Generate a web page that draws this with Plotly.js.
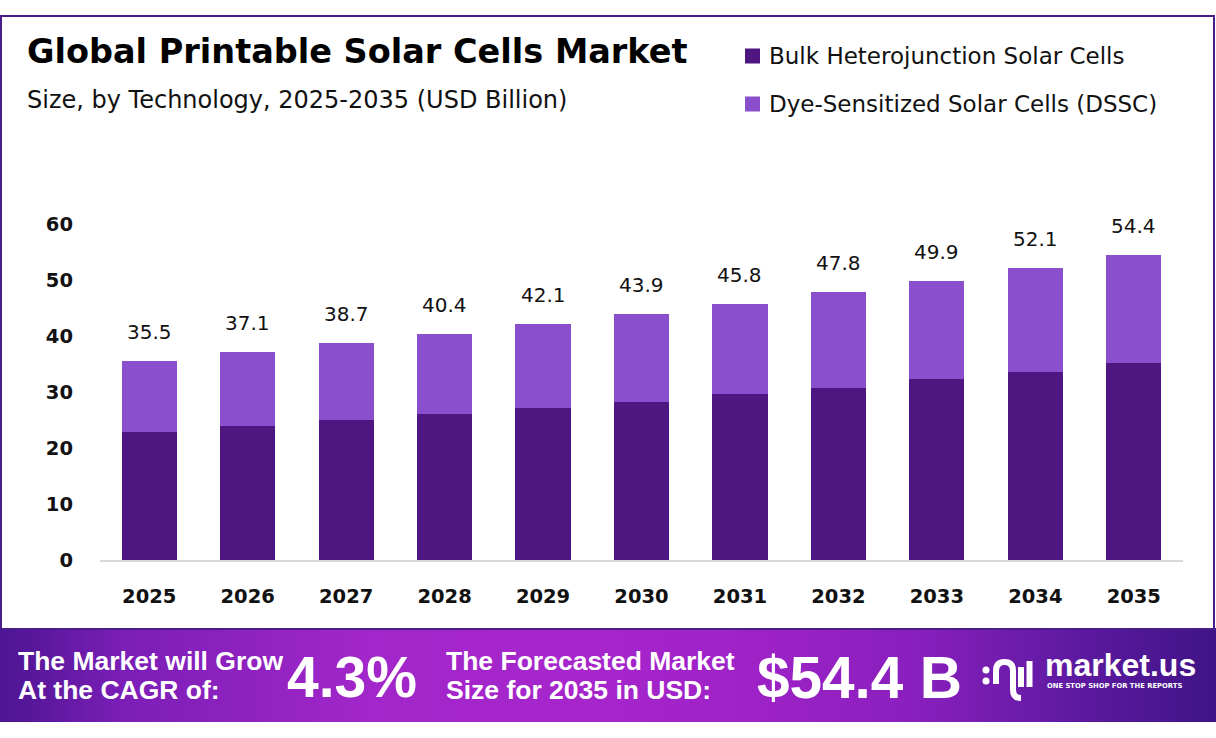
<!DOCTYPE html>
<html>
<head>
<meta charset="utf-8">
<script src="https://cdn.plot.ly/plotly-3.0.1.min.js"></script>
<style>
  html, body { margin: 0; padding: 0; background: #ffffff; }
  #wrap { position: relative; width: 1216px; height: 738px; overflow: hidden; }
  #banner { position: absolute; left: 0; top: 628px; width: 1216px; height: 94px;
    background: linear-gradient(90deg, #4c1592 0%, #7a1eb6 10%, #a226c9 30%, #a626cc 48%, #9e22c6 62%, #8a1fbe 75%, #5f1aa2 88%, #3f1486 100%); }
  #chart { position: absolute; left: 0; top: 0; width: 1216px; height: 738px; }
</style>
</head>
<body>
<div id="wrap">
  <div id="banner"></div>
  <div id="chart"></div>
</div>
<script>
// ---- data ----
const years = ['2025','2026','2027','2028','2029','2030','2031','2032','2033','2034','2035'];
const bulkHeterojunction = [22.8, 23.9, 25.0, 26.0, 27.1, 28.3, 29.6, 30.8, 32.3, 33.5, 35.1];
const dyeSensitized = [12.7, 13.2, 13.7, 14.4, 15.0, 15.6, 16.2, 17.0, 17.6, 18.6, 19.3];
const totalLabels = [35.5, 37.1, 38.7, 40.4, 42.1, 43.9, 45.8, 47.8, 49.9, 52.1, 54.4];
const yTicks = [0, 10, 20, 30, 40, 50, 60];
const seriesNames = ['Bulk Heterojunction Solar Cells', 'Dye-Sensitized Solar Cells (DSSC)'];

// ---- layout helpers (pixel -> paper) ----
const W = 1216, H = 738;
const px = x => x / W;
const py = y => 1 - y / H;
function pathPx(cmds) {
  return cmds.map(c => {
    const l = c[0]; const nums = c.slice(1);
    const out = [];
    for (let i = 0; i < nums.length; i += 2) out.push(px(nums[i]).toFixed(5) + ',' + py(nums[i+1]).toFixed(5));
    return l + out.join(' ');
  }).join(' ');
}

const DARK = '#4e1681';
const LIGHT = '#8a4fcc';
const FONT = '"DejaVu Sans", Verdana, sans-serif';
const BFONT = '"Liberation Sans", Arial, sans-serif';

const traces = [
  { type: 'bar', name: seriesNames[0], x: years, y: bulkHeterojunction,
    marker: { color: DARK }, hoverinfo: 'x+y+name' },
  { type: 'bar', name: seriesNames[1], x: years, y: dyeSensitized,
    marker: { color: LIGHT }, hoverinfo: 'x+y+name' }
];

const annotations = [];
// total labels above bars (x given as category serial number)
years.forEach((yr, i) => {
  annotations.push({ x: i, y: totalLabels[i], xref: 'x', yref: 'y', text: totalLabels[i].toFixed(1),
    showarrow: false, yshift: 29, font: { family: FONT, size: 20, color: '#111111' } });
});
// title & subtitle
annotations.push({ xref: 'paper', yref: 'paper', x: px(25), y: py(52), xanchor: 'left', yanchor: 'middle',
  text: 'Global Printable Solar Cells Market', showarrow: false,
  font: { family: FONT, size: 33.5, color: '#000000', weight: 700 } });
annotations.push({ xref: 'paper', yref: 'paper', x: px(25), y: py(100), xanchor: 'left', yanchor: 'middle',
  text: 'Size, by Technology, 2025-2035 (USD Billion)', showarrow: false,
  font: { family: FONT, size: 24, color: '#111111' } });
// legend texts
annotations.push({ xref: 'paper', yref: 'paper', x: px(767), y: py(56), xanchor: 'left', yanchor: 'middle',
  text: seriesNames[0], showarrow: false, font: { family: FONT, size: 23, color: '#111111' } });
annotations.push({ xref: 'paper', yref: 'paper', x: px(767), y: py(104), xanchor: 'left', yanchor: 'middle',
  text: seriesNames[1], showarrow: false, font: { family: FONT, size: 23, color: '#111111' } });
// banner texts
const bannerFont = s => ({ family: BFONT, size: s, color: '#ffffff', weight: 700 });
annotations.push({ xref: 'paper', yref: 'paper', x: px(16), y: py(661), xanchor: 'left', yanchor: 'middle',
  text: 'The Market will Grow', showarrow: false, font: bannerFont(26.5) });
annotations.push({ xref: 'paper', yref: 'paper', x: px(16), y: py(690), xanchor: 'left', yanchor: 'middle',
  text: 'At the CAGR of:', showarrow: false, font: bannerFont(26.5) });
annotations.push({ xref: 'paper', yref: 'paper', x: px(285), y: py(677), xanchor: 'left', yanchor: 'middle',
  text: '4.3%', showarrow: false, font: bannerFont(57) });
annotations.push({ xref: 'paper', yref: 'paper', x: px(444), y: py(661), xanchor: 'left', yanchor: 'middle',
  text: 'The Forecasted Market', showarrow: false, font: bannerFont(26.5) });
annotations.push({ xref: 'paper', yref: 'paper', x: px(444), y: py(690), xanchor: 'left', yanchor: 'middle',
  text: 'Size for 2035 in USD:', showarrow: false, font: bannerFont(26.5) });
annotations.push({ xref: 'paper', yref: 'paper', x: px(755), y: py(677), xanchor: 'left', yanchor: 'middle',
  text: '$54.4 B', showarrow: false, font: bannerFont(58.5) });
annotations.push({ xref: 'paper', yref: 'paper', x: px(1043), y: py(665), xanchor: 'left', yanchor: 'middle',
  text: 'market.us', showarrow: false, font: { family: '"Liberation Sans", Arial, sans-serif', size: 32, color: '#ffffff', weight: 700 } });
annotations.push({ xref: 'paper', yref: 'paper', x: px(1045), y: py(686), xanchor: 'left', yanchor: 'middle',
  text: 'ONE STOP SHOP FOR THE REPORTS', showarrow: false, font: { family: '"DejaVu Sans", sans-serif', size: 6.8, color: '#ffffff', weight: 700 } });

const shapes = [
  // panel border
  { type: 'rect', xref: 'paper', yref: 'paper', x0: px(1), x1: px(1214), y0: py(16), y1: py(629),
    line: { color: '#4b1d8a', width: 2 }, fillcolor: 'rgba(0,0,0,0)', layer: 'below' },
  // legend squares
  { type: 'rect', xref: 'paper', yref: 'paper', x0: px(745), x1: px(760), y0: py(48.5), y1: py(63.5),
    line: { width: 0 }, fillcolor: DARK },
  { type: 'rect', xref: 'paper', yref: 'paper', x0: px(745), x1: px(760), y0: py(96.5), y1: py(111.5),
    line: { width: 0 }, fillcolor: LIGHT },
  // logo icon
  { type: 'circle', xref: 'paper', yref: 'paper', x0: px(982.5), x1: px(989.5), y0: py(666.5), y1: py(673.5),
    line: { width: 0 }, fillcolor: '#ffffff' },
  { type: 'circle', xref: 'paper', yref: 'paper', x0: px(982.5), x1: px(989.5), y0: py(677.5), y1: py(684.5),
    line: { width: 0 }, fillcolor: '#ffffff' },
  { type: 'path', xref: 'paper', yref: 'paper',
    path: pathPx([['M', 996, 684], ['L', 996, 671], ['Q', 996, 662, 1004.5, 662], ['Q', 1013, 662, 1013, 671], ['L', 1013, 690], ['Q', 1013, 698, 1021, 698]]),
    line: { color: '#ffffff', width: 6 }, fillcolor: 'rgba(0,0,0,0)' },
  { type: 'path', xref: 'paper', yref: 'paper', path: pathPx([['M', 1021, 667], ['L', 1021, 687]]),
    line: { color: '#ffffff', width: 6 } },
  { type: 'path', xref: 'paper', yref: 'paper', path: pathPx([['M', 1029.5, 661], ['L', 1029.5, 687]]),
    line: { color: '#ffffff', width: 6 } }
];

const layout = {
  width: W, height: H,
  margin: { l: 0, r: 0, t: 0, b: 0, pad: 0 },
  paper_bgcolor: 'rgba(0,0,0,0)',
  plot_bgcolor: 'rgba(0,0,0,0)',
  barmode: 'stack',
  bargap: 0.44,
  showlegend: false,
  xaxis: {
    domain: [px(100), px(1183)],
    type: 'category',
    range: [-0.5, years.length - 0.5],
    showgrid: false, zeroline: false,
    showline: true, linecolor: '#d9d9d9', linewidth: 2,
    ticks: '', ticklabelstandoff: 18,
    tickfont: { family: FONT, size: 19.5, color: '#111111', weight: 700 },
    fixedrange: true
  },
  yaxis: {
    domain: [1 - 560 / H, 1 - 224 / H],
    range: [0, 60],
    tickvals: yTicks,
    ticktext: yTicks.map(String),
    showgrid: false, zeroline: false, showline: false,
    ticks: '', ticklabelstandoff: 26,
    tickfont: { family: FONT, size: 19.5, color: '#111111', weight: 700 },
    fixedrange: true
  },
  annotations: annotations,
  shapes: shapes
};

Plotly.newPlot('chart', traces, layout, { displayModeBar: false, staticPlot: true });
</script>
</body>
</html>
